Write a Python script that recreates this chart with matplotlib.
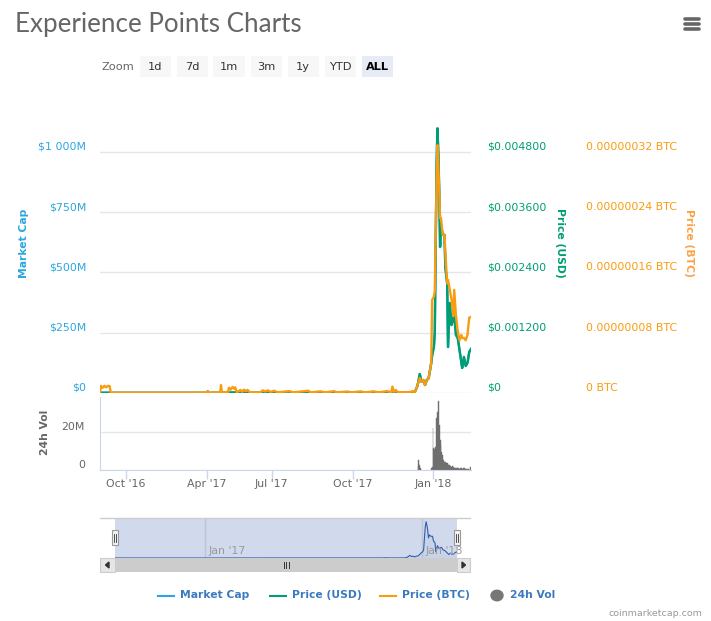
import matplotlib
matplotlib.use('Agg')
import matplotlib.pyplot as plt
from matplotlib.patches import Rectangle, Circle, Polygon
from matplotlib.lines import Line2D
from matplotlib.transforms import blended_transform_factory

# ordinal day index (Highstock ordinal axis), prices, volume
day = [0, 1, 3, 5, 7, 9, 11, 12, 20, 40, 60, 80, 100, 120, 122, 124, 136, 137, 138,
       145, 146, 148, 150, 152, 153, 155, 159, 161, 163, 165, 167, 170, 182, 184, 187,
       190, 193, 197, 201, 215, 218, 236, 238, 250, 255, 265, 268, 280, 285, 295, 300,
       310, 315, 325, 330, 331, 333, 335, 337, 345, 350, 354, 356,
       359, 360, 362, 364, 366, 368, 370, 372, 373, 375, 376, 378, 379, 381, 382, 383,
       384, 385, 386, 388, 390, 391, 393, 394, 396, 398, 400, 401, 403, 405, 407, 409,
       410, 412, 414, 416, 418, 420]
price_usd = [0.000004, 0.000006, 0.000005, 0.000006, 0.000005, 0.000006, 0.000006, 0.000003,
             0.000003, 0.000003, 0.000003, 0.000003, 0.000003, 0.000003, 0.000005, 0.000003,
             0.000004, 0.000012, 0.000004, 0.000005, 0.000010, 0.000008, 0.000012, 0.000010,
             0.000012, 0.000005, 0.000008, 0.000005, 0.000009, 0.000006, 0.000008, 0.000004,
             0.000005, 0.000012, 0.000010, 0.000015, 0.000008, 0.000014, 0.000006, 0.000008,
             0.000005, 0.000009, 0.000005, 0.000008, 0.000005, 0.000010, 0.000006, 0.000009,
             0.000006, 0.000010, 0.000006, 0.000012, 0.000008, 0.000015, 0.000010, 0.000035,
             0.000012, 0.000025, 0.000010, 0.000012, 0.000008, 0.000020, 0.000006,
             0.000125, 0.000193, 0.000378, 0.000225, 0.000259, 0.000159, 0.000259, 0.000293,
             0.000392, 0.000598, 0.000750, 0.000922, 0.001200, 0.004500, 0.005270, 0.004800,
             0.004040, 0.002910, 0.003350, 0.003150, 0.003150, 0.002500, 0.002190, 0.000916,
             0.001793, 0.001355, 0.001494, 0.001554, 0.001155, 0.001096, 0.000857, 0.000618,
             0.000498, 0.000717, 0.000538, 0.000598, 0.000817, 0.000876]
price_btc_e8 = [0.10, 0.95, 0.70, 0.95, 0.75, 0.95, 0.90, 0.08, 0.04, 0.03, 0.04, 0.03, 0.04,
                0.05, 0.28, 0.05, 0.05, 1.05, 0.05, 0.15, 0.70, 0.45, 0.80, 0.55, 0.75, 0.10,
                0.40, 0.15, 0.45, 0.25, 0.40, 0.08, 0.10, 0.35, 0.20, 0.35, 0.15, 0.30, 0.10,
                0.25, 0.08, 0.30, 0.08, 0.22, 0.08, 0.25, 0.08, 0.20, 0.08, 0.22, 0.08, 0.22,
                0.08, 0.25, 0.10, 0.85, 0.15, 0.40, 0.10, 0.12, 0.08, 0.25, 0.05,
                0.84, 1.29, 1.99, 1.50, 1.73, 1.06, 1.73, 1.95, 2.62, 3.98, 12.35, 12.79, 13.5,
                28.0, 32.9, 30.0, 26.96, 23.24, 23.24, 20.98, 20.98, 18.6, 14.57, 15.0, 13.7,
                12.35, 10.2, 13.7, 10.2, 8.2, 7.0, 7.7, 7.3, 7.3, 7.0, 7.7, 10.0, 10.1]
supply_m = 208333  # circulating supply, millions
market_cap = [p * supply_m for p in price_usd]  # $M

vol_day = [360, 361, 362, 363] + list(range(375, 421))
vol_m = [2.0, 5.3, 2.6, 0.9,
         0.9, 1.8, 22.3, 11.7, 11.0, 12.0, 27.6, 30.5, 36.6, 23.9, 16.0, 13.3, 9.5, 8.0,
         5.3, 4.4, 4.0, 3.5, 3.5, 3.0, 2.6, 2.6, 2.2, 1.8, 2.0, 1.5, 1.2, 0.9, 0.9, 0.8,
         0.9, 1.0, 0.6, 0.8, 0.9, 0.5, 0.6, 0.9, 0.8, 0.4, 0.3, 0.5, 0.3, 0.2, 1.6, 0.3]

tick_pos = [29, 121, 194.5, 286.5, 377.5]
tick_labels = ["Oct '16", "Apr '17", "Jul '17", "Oct '17", "Jan '18"]
nav_tick_pos = [111, 377.5]
nav_tick_labels = ["Jan '17", "Jan '18"]

cap_ticks = [0, 250, 500, 750, 1000]
cap_labels = ['$0', '$250M', '$500M', '$750M', '$1 000M']
usd_ticks = [0, 0.0012, 0.0024, 0.0036, 0.0048]
usd_labels = ['$0', '$0.001200', '$0.002400', '$0.003600', '$0.004800']
btc_ticks = [0, 8, 16, 24, 32]
btc_labels = ['0 BTC', '0.00000008 BTC', '0.00000016 BTC', '0.00000024 BTC', '0.00000032 BTC']
vol_ticks = [0, 20]
vol_labels = ['0', '20M']
buttons = ['1d', '7d', '1m', '3m', '1y', 'YTD', 'ALL']

CAP = '#2ca6e0'
USD = '#009e73'
BTC = '#fa9c0f'
VOL = '#6f6f6f'
LEG = '#3a7bbf'

plt.rcParams['font.family'] = 'DejaVu Sans'
W, H = 711, 621
PT = 0.72
fig = plt.figure(figsize=(W / 100, H / 100), dpi=100)


def fx(x):
    return x / W


def fy(y):
    return 1 - y / H


def axes_px(l, t, r, b, **kw):
    return fig.add_axes([l / W, 1 - b / H, (r - l) / W, (b - t) / H], **kw)


def rect(x0, y0, x1, y1, **kw):
    fig.add_artist(Rectangle((fx(x0), fy(y1)), fx(x1) - fx(x0), fy(y0) - fy(y1),
                             transform=fig.transFigure, **kw))


def hline(x0, x1, y, **kw):
    fig.add_artist(Line2D([fx(x0), fx(x1)], [fy(y), fy(y)], transform=fig.transFigure, **kw))


def vline(x, y0, y1, **kw):
    fig.add_artist(Line2D([fx(x), fx(x)], [fy(y0), fy(y1)], transform=fig.transFigure, **kw))


# title, menu icon, zoom buttons
fig.text(fx(15), fy(32), 'Experience Points Charts', family='Lato', fontsize=26 * PT,
         color='#666666', va='baseline')
for yy in (19.3, 24.2, 29.1):
    hline(684.5, 698.5, yy, color='#666666', lw=2.6, solid_capstyle='round')
fig.text(fx(101), fy(66.5), 'Zoom', fontsize=11.4 * PT, color='#666666', va='center')
for i, b in enumerate(buttons):
    cx = 155 + i * 37
    sel = b == 'ALL'
    rect(cx - 15.5, 56, cx + 15.5, 77, facecolor='#e6ebf5' if sel else '#f7f7f7', edgecolor='none')
    fig.text(fx(cx), fy(66.5), b, fontsize=11.4 * PT, ha='center', va='center',
             color='#000000' if sel else '#333333', fontweight='bold' if sel else 'normal')

# main panel
ax = axes_px(100, 95, 471, 393)
cap_max = 1236.5
ax.set_xlim(0, 420)
ax.set_ylim(0, cap_max)
ax.plot(day, market_cap, color=CAP, lw=1.7, solid_joinstyle='round')
ax.set_yticks(cap_ticks, cap_labels)
ax.set_xticks([])
ax.grid(axis='y', color='#e6e6e6', lw=1)
ax.set_axisbelow(True)
ax.tick_params(axis='y', length=0, pad=14 * PT, labelsize=11 * PT, labelcolor=CAP)
for s in ax.spines.values():
    s.set_visible(False)

ax_usd = ax.twinx()
ax_usd.set_ylim(0, cap_max / 1000 * 0.0048)
ax_usd.plot(day, price_usd, color=USD, lw=1.7, solid_joinstyle='round')
ax_usd.set_yticks(usd_ticks, usd_labels)
ax_usd.tick_params(axis='y', length=0, pad=16 * PT, labelsize=11 * PT, labelcolor=USD)

ax_btc = ax.twinx()
ax_btc.set_ylim(0, cap_max / 1000 * 32)
ax_btc.plot(day, price_btc_e8, color=BTC, lw=1.7, solid_joinstyle='round')
ax_btc.set_yticks(btc_ticks, btc_labels)
ax_btc.tick_params(axis='y', length=0, pad=115 * PT, labelsize=11 * PT, labelcolor=BTC)

for a in (ax_usd, ax_btc):
    a.set_xlim(0, 420)
    for s in a.spines.values():
        s.set_visible(False)
for a in (ax, ax_usd, ax_btc):
    for t in a.get_yticklabels():
        t.set_va('bottom')

fig.text(fx(24), fy(243), 'Market Cap', rotation=90, ha='center', va='center',
         fontsize=10.7 * PT, fontweight='bold', color=CAP)
fig.text(fx(560), fy(243), 'Price (USD)', rotation=270, ha='center', va='center',
         fontsize=10.7 * PT, fontweight='bold', color=USD)
fig.text(fx(689), fy(243), 'Price (BTC)', rotation=270, ha='center', va='center',
         fontsize=10.7 * PT, fontweight='bold', color='#fba246')

# volume panel
axv = axes_px(100, 397, 471, 470)
axv.bar(vol_day, vol_m, width=1.0, color=VOL, edgecolor=VOL, lw=0.3)
axv.set_xlim(0, 420)
axv.set_ylim(0, 38.7)
axv.set_yticks(vol_ticks, vol_labels)
axv.grid(axis='y', color='#e6e6e6', lw=1)
axv.set_axisbelow(True)
axv.tick_params(axis='y', length=0, pad=15 * PT, labelsize=11 * PT, labelcolor='#666666')
for t in axv.get_yticklabels():
    t.set_va('bottom')
axv.set_xticks(tick_pos, tick_labels)
axv.tick_params(axis='x', length=9 * PT, width=1, color='#ccd6eb', pad=0,
                labelsize=11 * PT, labelcolor='#666666')
for k in ('top', 'right'):
    axv.spines[k].set_visible(False)
for k in ('left', 'bottom'):
    axv.spines[k].set_color('#ccd6eb')
fig.text(fx(45), fy(432), '24h Vol', rotation=90, ha='center', va='center',
         fontsize=10.7 * PT, fontweight='bold', color='#666666')

# navigator
hline(100, 470, 518, color='#cccccc', lw=1)
axn = axes_px(115, 518, 457, 558)
axn.set_facecolor('#d1daed')
axn.plot(day, market_cap, color='#335cad', lw=0.8)
axn.fill_between(day, market_cap, color='#335cad', alpha=0.05, lw=0)
axn.set_xlim(0, 420)
axn.set_ylim(0, 1210)
axn.set_xticks(nav_tick_pos)
axn.set_yticks([])
axn.grid(axis='x', color='#bcc4d8', lw=1)
axn.set_axisbelow(True)
axn.tick_params(axis='x', length=0, labelbottom=False)
for s in axn.spines.values():
    s.set_visible(False)
trn = blended_transform_factory(axn.transData, axn.transAxes)
for p, lbl in zip(nav_tick_pos, nav_tick_labels):
    axn.annotate(lbl, xy=(p, 0), xycoords=trn, xytext=(3 * PT, 7.5 * PT),
                 textcoords='offset points', ha='left', va='center',
                 fontsize=11 * PT, color='#999999')
for hx in (115, 457):
    rect(hx - 3.5, 530, hx + 3.5, 545, facecolor='#f2f2f2', edgecolor='#999999', lw=0.8)
    vline(hx - 1.2, 533.5, 541.5, color='#333333', lw=0.6)
    vline(hx + 1.2, 533.5, 541.5, color='#333333', lw=0.6)

# scrollbar
rect(100, 558, 470, 572, facecolor='#f2f2f2', edgecolor='none')
rect(100, 558, 115, 572, facecolor='#e6e6e6', edgecolor='#cccccc', lw=0.8)
rect(457, 558, 470, 572, facecolor='#e6e6e6', edgecolor='#cccccc', lw=0.8)
rect(115, 558, 457, 572, facecolor='#cccccc', edgecolor='none')
for rx in (283.5, 286, 288.5):
    vline(rx, 562, 568, color='#333333', lw=0.7)
fig.add_artist(Polygon([(fx(105.5), fy(565)), (fx(109), fy(562)), (fx(109), fy(568))],
                       closed=True, transform=fig.transFigure, color='#333333'))
fig.add_artist(Polygon([(fx(465.5), fy(565)), (fx(462), fy(562)), (fx(462), fy(568))],
                       closed=True, transform=fig.transFigure, color='#333333'))

# legend
leg = [(158, CAP, 'Market Cap'), (270, USD, 'Price (USD)'), (380, BTC, 'Price (BTC)')]
for lx, c, lbl in leg:
    hline(lx, lx + 16, 595.5, color=c, lw=1.5)
    fig.text(fx(lx + 22), fy(595.5), lbl, fontsize=10.7 * PT, fontweight='bold',
             color=LEG, va='center')
fig.add_artist(Circle((fx(497), fy(595.5)), 6 / W, transform=fig.transFigure, color='#777777'))
fig.text(fx(510), fy(595.5), '24h Vol', fontsize=10.7 * PT, fontweight='bold',
         color=LEG, va='center')
fig.text(fx(702), fy(614), 'coinmarketcap.com', fontsize=9.5 * PT, color='#999999',
         ha='right', va='center')

fig.savefig('out.png', dpi=100, facecolor='white')
